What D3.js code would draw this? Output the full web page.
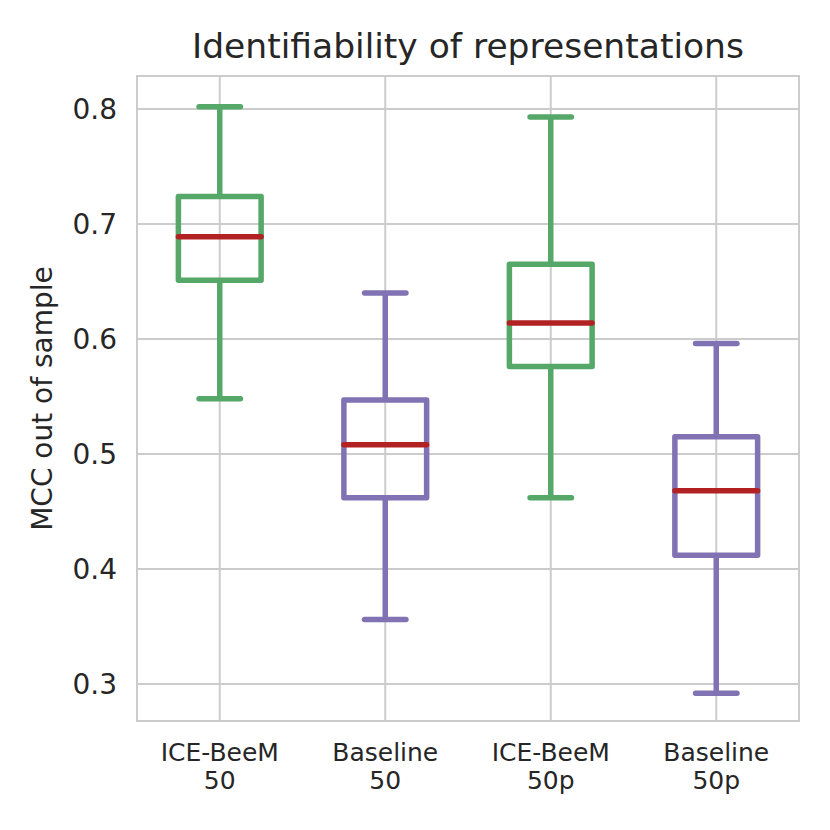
<!DOCTYPE html>
<html>
<head>
<meta charset="utf-8">
<script src="https://cdn.jsdelivr.net/npm/d3@7"></script>
<style>
  body { margin: 0; background: #fff; }
  text { font-family: "DejaVu Sans", sans-serif; fill: #262626; }
</style>
</head>
<body>
<svg id="chart"></svg>
<script>
// categories and the five-number summaries
const groups = ["ICE-BeeM\n50", "Baseline\n50", "ICE-BeeM\n50p", "Baseline\n50p"];
const whiskerLow  = [0.548, 0.356, 0.462, 0.292];
const q1          = [0.651, 0.462, 0.576, 0.412];
const medians     = [0.689, 0.508, 0.614, 0.468];
const q3          = [0.724, 0.547, 0.665, 0.515];
const whiskerHigh = [0.802, 0.640, 0.793, 0.596];
const boxColors = ["#55a868", "#8172b3", "#55a868", "#8172b3"];
const yTicks = [0.3, 0.4, 0.5, 0.6, 0.7, 0.8];

const data = groups.map((g, i) => ({
  group: g, lo: whiskerLow[i], q1: q1[i], med: medians[i], q3: q3[i], hi: whiskerHigh[i], color: boxColors[i]
}));

const width = 830, height = 830;
const margin = {top: 76, right: 31, bottom: 109, left: 137};

const svg = d3.select("#chart")
  .attr("width", width)
  .attr("height", height);

const x = d3.scaleBand()
  .domain(groups)
  .range([margin.left, width - margin.right]);

const y = d3.scaleLinear()
  .domain([0.2678, 0.8287])
  .range([height - margin.bottom, margin.top]);

// grid
svg.append("g")
  .selectAll("line.hgrid")
  .data(yTicks)
  .enter().append("line")
  .attr("x1", margin.left).attr("x2", width - margin.right)
  .attr("y1", d => y(d)).attr("y2", d => y(d))
  .attr("stroke", "#cccccc").attr("stroke-width", 2);

svg.append("g")
  .selectAll("line.vgrid")
  .data(groups)
  .enter().append("line")
  .attr("x1", d => x(d) + x.bandwidth() / 2).attr("x2", d => x(d) + x.bandwidth() / 2)
  .attr("y1", margin.top).attr("y2", height - margin.bottom)
  .attr("stroke", "#cccccc").attr("stroke-width", 2);

// frame
svg.append("rect")
  .attr("x", margin.left).attr("y", margin.top)
  .attr("width", width - margin.left - margin.right)
  .attr("height", height - margin.top - margin.bottom)
  .attr("fill", "none").attr("stroke", "#cccccc").attr("stroke-width", 2);

// y tick labels
svg.append("g")
  .selectAll("text")
  .data(yTicks)
  .enter().append("text")
  .attr("x", margin.left - 20)
  .attr("y", d => y(d))
  .attr("dy", "0.36em")
  .attr("text-anchor", "end")
  .attr("font-size", 28)
  .text(d => d3.format(".1f")(d));

// x tick labels (two lines)
const xl = svg.append("g")
  .selectAll("text")
  .data(groups)
  .enter().append("text")
  .attr("text-anchor", "middle")
  .attr("font-size", 25)
  .attr("transform", d => `translate(${x(d) + x.bandwidth() / 2},${height - margin.bottom + 40})`);
xl.each(function(d) {
  const parts = d.split("\n");
  d3.select(this).selectAll("tspan")
    .data(parts)
    .enter().append("tspan")
    .attr("x", 0)
    .attr("dy", (p, i) => i === 0 ? 0 : "1.12em")
    .text(p => p);
});

// boxes
const boxW = x.bandwidth() * 0.5;
const capW = boxW * 0.5;
const lw = 5.5;

const g = svg.append("g")
  .selectAll("g")
  .data(data)
  .enter().append("g")
  .attr("transform", d => `translate(${x(d.group) + x.bandwidth() / 2},0)`);

g.append("line")
  .attr("x1", 0).attr("x2", 0)
  .attr("y1", d => y(d.q3)).attr("y2", d => y(d.hi))
  .attr("stroke", d => d.color).attr("stroke-width", lw);
g.append("line")
  .attr("x1", 0).attr("x2", 0)
  .attr("y1", d => y(d.q1)).attr("y2", d => y(d.lo))
  .attr("stroke", d => d.color).attr("stroke-width", lw);
g.append("line")
  .attr("x1", -capW / 2).attr("x2", capW / 2)
  .attr("y1", d => y(d.hi)).attr("y2", d => y(d.hi))
  .attr("stroke", d => d.color).attr("stroke-width", lw).attr("stroke-linecap", "round");
g.append("line")
  .attr("x1", -capW / 2).attr("x2", capW / 2)
  .attr("y1", d => y(d.lo)).attr("y2", d => y(d.lo))
  .attr("stroke", d => d.color).attr("stroke-width", lw).attr("stroke-linecap", "round");
g.append("rect")
  .attr("x", -boxW / 2)
  .attr("width", boxW)
  .attr("y", d => y(d.q3))
  .attr("height", d => y(d.q1) - y(d.q3))
  .attr("fill", "none")
  .attr("stroke", d => d.color).attr("stroke-width", lw).attr("stroke-linejoin", "round");
g.append("line")
  .attr("x1", -boxW / 2).attr("x2", boxW / 2)
  .attr("y1", d => y(d.med)).attr("y2", d => y(d.med))
  .attr("stroke", "#b22222").attr("stroke-width", lw).attr("stroke-linecap", "round");

// title
svg.append("text")
  .attr("x", (margin.left + width - margin.right) / 2)
  .attr("y", 58)
  .attr("text-anchor", "middle")
  .attr("font-size", 34.5)
  .text("Identifiability of representations");

// y label
svg.append("text")
  .attr("transform", `translate(52,${(margin.top + height - margin.bottom) / 2}) rotate(-90)`)
  .attr("text-anchor", "middle")
  .attr("font-size", 28)
  .text("MCC out of sample");
</script>
</body>
</html>
